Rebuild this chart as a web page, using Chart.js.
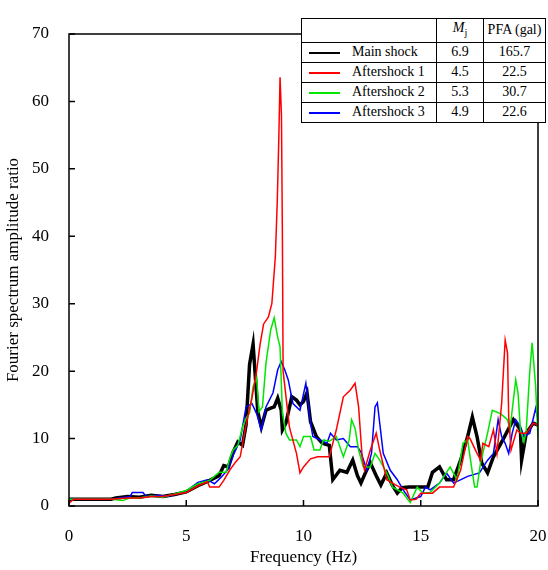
<!DOCTYPE html>
<html>
<head>
<meta charset="utf-8">
<script src="https://cdn.jsdelivr.net/npm/chart.js@4.4.0/dist/chart.umd.min.js"></script>
<style>
body { margin: 0; background: #fff; }
#wrap { position: relative; width: 548px; height: 570px; }
#legendTable {
    position: absolute; left: 301px; top: 18px;
    border-collapse: collapse; background: #fff;
    font-family: "Liberation Serif", serif; font-size: 14px; color: #000;
}
#legendTable td { border: 1px solid #000; padding: 0; text-align: center; height: 19px; line-height: 18px; }
#legendTable tr.head td { height: 22px; }
#legendTable td.name { text-align: left; width: 134px; white-space: nowrap; }
#legendTable td.mj { width: 46px; }
#legendTable td.pfa { width: 61px; }
.swatch { display: inline-block; width: 31px; height: 2px; vertical-align: middle; margin: 0 12px 0 7px; }
</style>
</head>
<body>
<div id="wrap">
<canvas id="chart" width="548" height="570"></canvas>
<table id="legendTable"></table>
</div>
<script>
var ctx;
var myChart;

// Fourier spectrum amplitude ratio, [frequency (Hz), ratio]
var mainShock = [
    [0, 1.0], [1.8, 1.0], [2.0, 1.2], [2.5, 1.4], [3.0, 1.3], [3.5, 1.6], [4.0, 1.4], [4.5, 1.7],
    [5.0, 2.1], [5.5, 3.0], [6.0, 3.8], [6.4, 4.5], [6.6, 6.0], [6.8, 5.8], [7.0, 8.0], [7.2, 9.5],
    [7.4, 9.0], [7.55, 12.0], [7.7, 21.0], [7.85, 24.0], [7.95, 19.0], [8.05, 14.0], [8.2, 11.7],
    [8.4, 14.2], [8.6, 14.5], [8.75, 14.7], [8.9, 16.0], [9.05, 14.2], [9.1, 11.3], [9.25, 12.3],
    [9.5, 16.2], [9.7, 15.7], [9.85, 15.0], [10.0, 15.5], [10.15, 16.8], [10.3, 12.5], [10.55, 10.3],
    [10.8, 9.3], [11.1, 9.0], [11.25, 3.9], [11.55, 5.3], [11.85, 5.0], [12.1, 6.8], [12.3, 4.5],
    [12.45, 3.4], [12.65, 5.0], [12.85, 6.4], [13.1, 4.5], [13.3, 3.1], [13.55, 4.9], [13.8, 3.0],
    [14.0, 1.9], [14.2, 2.7], [14.5, 2.8], [14.95, 2.8], [15.3, 2.8], [15.5, 5.0], [15.8, 5.8],
    [16.1, 3.9], [16.4, 3.9], [16.7, 6.8], [17.0, 10.3], [17.2, 13.2], [17.4, 10.3], [17.6, 6.4],
    [17.85, 4.9], [18.1, 7.3], [18.5, 9.8], [18.95, 12.8], [19.25, 11.3], [19.3, 6.8], [19.5, 10.8],
    [19.8, 12.3], [20.0, 12.0]
];
var aftershock1 = [
    [0, 0.4], [0.2, 1.0], [1.8, 1.0], [2.5, 1.2], [3.0, 1.2], [3.5, 1.4], [4.0, 1.4], [4.5, 1.7],
    [5.0, 2.0], [5.5, 3.0], [5.9, 3.6], [6.0, 2.8], [6.4, 2.8], [6.6, 3.8], [6.85, 5.3], [7.1, 6.5],
    [7.3, 7.3], [7.55, 12.0], [7.8, 16.0], [8.0, 20.0], [8.15, 24.0], [8.3, 27.0], [8.5, 28.0],
    [8.65, 30.0], [8.8, 37.0], [8.88, 45.0], [8.95, 55.0], [9.0, 63.6], [9.06, 58.0], [9.1, 40.0],
    [9.13, 20.0], [9.4, 11.7], [9.7, 7.8], [9.85, 4.9], [10.0, 5.8], [10.3, 7.0], [10.6, 7.3],
    [11.1, 7.3], [11.4, 11.3], [11.7, 16.2], [12.0, 17.2], [12.2, 18.2], [12.35, 14.7], [12.5, 7.3],
    [12.6, 5.3], [12.85, 8.3], [13.1, 10.8], [13.25, 8.3], [13.55, 3.9], [13.8, 3.4], [14.1, 2.8],
    [14.4, 2.4], [14.55, 0.9], [14.8, 1.0], [15.0, 1.9], [15.5, 1.9], [15.8, 2.8], [16.4, 2.8],
    [16.7, 5.3], [17.0, 10.3], [17.1, 10.0], [17.4, 7.8], [17.55, 6.8], [17.65, 9.3], [17.9, 8.8],
    [18.1, 11.3], [18.25, 7.8], [18.45, 15.2], [18.6, 24.6], [18.7, 22.7], [18.75, 13.2], [18.85, 8.3],
    [19.1, 11.3], [19.25, 10.8], [19.5, 10.8], [19.8, 12.3], [20.0, 12.0]
];
var aftershock2 = [
    [0, 1.0], [1.8, 1.0], [2.3, 0.8], [2.6, 1.2], [3.0, 1.2], [3.5, 1.5], [4.0, 1.3], [4.5, 1.8],
    [5.0, 2.3], [5.5, 3.3], [6.0, 3.8], [6.4, 5.0], [6.7, 5.0], [6.85, 7.0], [7.0, 8.3], [7.2, 9.0],
    [7.4, 11.7], [7.55, 13.0], [7.7, 13.8], [7.85, 17.7], [8.0, 19.1], [8.1, 14.0], [8.25, 14.7],
    [8.4, 21.2], [8.6, 26.1], [8.75, 27.9], [8.9, 25.0], [9.0, 23.6], [9.05, 18.7], [9.1, 13.8],
    [9.25, 10.8], [9.4, 9.8], [9.7, 9.8], [9.85, 8.8], [10.0, 10.3], [10.3, 10.3], [10.45, 8.3],
    [10.7, 8.3], [10.85, 9.8], [11.1, 9.6], [11.4, 10.3], [11.7, 7.3], [11.95, 9.8], [12.05, 12.8],
    [12.2, 11.5], [12.35, 8.3], [12.55, 5.8], [12.85, 5.8], [13.05, 7.8], [13.25, 6.8], [13.55, 4.9],
    [13.8, 2.8], [14.25, 1.9], [14.55, 0.5], [14.85, 2.8], [15.1, 1.9], [15.4, 2.0], [15.8, 3.4],
    [16.25, 5.8], [16.55, 3.9], [16.8, 9.3], [17.0, 9.8], [17.2, 5.0], [17.3, 2.8], [17.4, 2.8],
    [17.55, 6.4], [17.85, 10.8], [18.05, 14.2], [18.4, 13.7], [18.7, 12.8], [18.8, 11.3], [19.05, 18.7],
    [19.15, 16.7], [19.25, 11.3], [19.4, 9.5], [19.5, 11.3], [19.65, 20.0], [19.75, 24.2], [19.9, 17.7],
    [20.0, 10.0]
];
var aftershock3 = [
    [0, 1.0], [1.8, 1.0], [2.2, 1.2], [2.6, 1.4], [2.7, 2.0], [3.15, 2.0], [3.3, 1.4], [3.8, 1.6],
    [4.2, 1.4], [4.6, 1.8], [5.0, 2.2], [5.5, 3.5], [5.9, 3.9], [6.2, 3.3], [6.5, 4.3], [6.8, 5.5],
    [7.0, 7.5], [7.3, 9.8], [7.55, 14.7], [7.8, 15.2], [8.0, 13.7], [8.2, 11.3], [8.4, 14.7],
    [8.7, 16.8], [8.9, 20.2], [9.05, 21.4], [9.2, 20.2], [9.35, 18.7], [9.55, 15.2], [9.85, 14.2],
    [10.1, 18.2], [10.3, 12.3], [10.4, 10.3], [10.7, 9.8], [11.0, 9.3], [11.15, 10.8], [11.4, 9.8],
    [11.7, 10.0], [12.0, 8.8], [12.3, 8.8], [12.45, 8.0], [12.7, 5.3], [12.9, 7.8], [13.05, 14.7],
    [13.15, 15.3], [13.25, 12.3], [13.4, 7.8], [13.7, 5.3], [14.0, 3.9], [14.25, 2.4], [14.55, 0.9],
    [15.0, 1.4], [15.2, 2.8], [15.4, 2.4], [15.8, 3.4], [16.1, 4.9], [16.4, 3.4], [17.0, 4.4],
    [17.5, 4.9], [17.85, 6.8], [18.1, 7.8], [18.3, 12.8], [18.45, 10.3], [18.6, 9.3], [18.75, 7.8],
    [18.9, 10.8], [19.05, 12.8], [19.25, 11.8], [19.4, 10.3], [19.65, 10.8], [19.9, 14.5], [20.0, 12.8]
];

var seriesLabels = ["Main shock", "Aftershock 1", "Aftershock 2", "Aftershock 3"];
var magnitudes = ["6.9", "4.5", "5.3", "4.9"];
var pfaValues = ["165.7", "22.5", "30.7", "22.6"];
var myColors = ["#000000", "#ff0000", "#00e600", "#0000ff"];
var lineWidths = [3.5, 1.5, 1.5, 1.5];

var FONT = "'Liberation Serif', 'Times New Roman', serif";

function toPoints(arr) {
    return arr.map(function (p) { return {x: p[0], y: p[1]}; });
}

// frame + inward ticks on left and bottom
var framePlugin = {
    id: 'frame',
    afterDatasetsDraw: function (chart) {
        let c = chart.ctx;
        let a = chart.chartArea;
        let xs = chart.scales.x, ys = chart.scales.y;
        c.save();
        c.strokeStyle = '#000';
        c.lineWidth = 1.5;
        c.strokeRect(a.left, a.top, a.right - a.left, a.bottom - a.top);
        c.beginPath();
        xs.ticks.forEach(function (t) {
            let px = xs.getPixelForValue(t.value);
            c.moveTo(px, a.bottom); c.lineTo(px, a.bottom - 6);
        });
        ys.ticks.forEach(function (t) {
            let py = ys.getPixelForValue(t.value);
            c.moveTo(a.left, py); c.lineTo(a.left + 6, py);
        });
        c.stroke();
        c.restore();
    }
};

function buildLegend() {
    let tbl = document.getElementById('legendTable');
    let html = '<tr class="head"><td class="name"></td><td class="mj"><i>M</i><sub style="font-size:10px">j</sub></td><td class="pfa">PFA (gal)</td></tr>';
    for (let i = 0; i < seriesLabels.length; i++) {
        html += '<tr><td class="name"><span class="swatch" style="background-color:' + myColors[i] + '"></span>' + seriesLabels[i] +
            '</td><td class="mj">' + magnitudes[i] + '</td><td class="pfa">' + pfaValues[i] + '</td></tr>';
    }
    tbl.innerHTML = html;
}

var config = {
    type: 'line',
    data: {
        datasets: [mainShock, aftershock1, aftershock2, aftershock3].map(function (d, i) {
            return {
                label: seriesLabels[i],
                data: toPoints(d),
                borderColor: myColors[i],
                borderWidth: lineWidths[i],
                pointRadius: 0,
                tension: 0,
                fill: false,
                order: i == 0 ? 4 : i
            };
        })
    },
    options: {
        responsive: false,
        animation: false,
        layout: {padding: {top: 34, right: 10, left: 0, bottom: 0}},
        plugins: {legend: {display: false}, tooltip: {enabled: false}},
        scales: {
            x: {
                type: 'linear', min: 0, max: 20,
                ticks: {stepSize: 5, color: '#000', padding: 20, font: {family: FONT, size: 17}},
                grid: {display: false, drawTicks: false},
                border: {display: false},
                title: {display: true, text: 'Frequency (Hz)', color: '#000', font: {family: FONT, size: 17}, padding: {top: 0, bottom: 2}},
                afterFit: function (s) { s.height = 64; s.paddingLeft = 0; s.paddingRight = 0; }
            },
            y: {
                min: 0, max: 70,
                ticks: {stepSize: 10, color: '#000', padding: 20, font: {family: FONT, size: 17}},
                grid: {display: false, drawTicks: false},
                border: {display: false},
                title: {display: true, text: 'Fourier spectrum amplitude ratio', color: '#000', font: {family: FONT, size: 17}, padding: {top: 3, bottom: 0}},
                afterFit: function (s) { s.width = 69; s.paddingTop = 0; s.paddingBottom = 0; }
            }
        }
    },
    plugins: [framePlugin]
};

function initChart() {
    ctx = document.getElementById('chart').getContext('2d');
    myChart = new Chart(ctx, config);
}

buildLegend();
initChart();
</script>
</body>
</html>
